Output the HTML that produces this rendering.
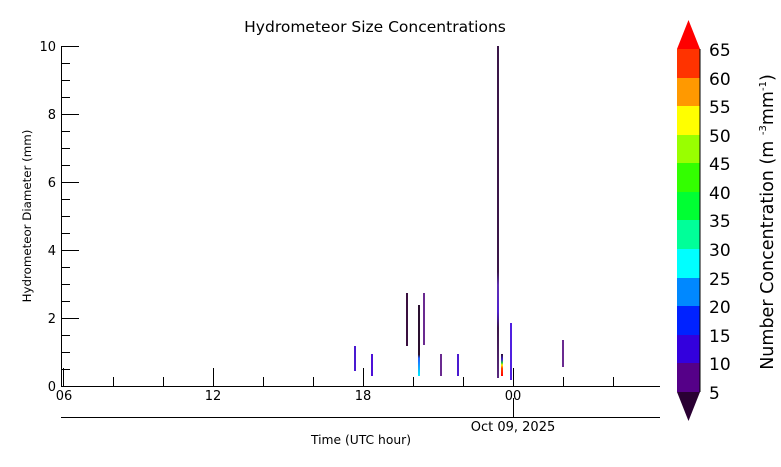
<!DOCTYPE html>
<html><head><meta charset="utf-8"><style>
html,body{margin:0;padding:0;background:#fff;}
svg{display:block;font-family:"DejaVu Sans","Liberation Sans",sans-serif;}
</style></head><body>
<svg width="781" height="467" viewBox="0 0 781 467" xmlns="http://www.w3.org/2000/svg">
<defs>
<linearGradient id="g419" x1="0" y1="0" x2="0" y2="1">
<stop offset="0" stop-color="#2a1030"/><stop offset="0.7" stop-color="#2a1030"/><stop offset="0.75" stop-color="#2060ff"/><stop offset="1" stop-color="#00f0ff"/>
</linearGradient>
<linearGradient id="g502" x1="0" y1="0" x2="0" y2="1">
<stop offset="0" stop-color="#2a1030"/><stop offset="0.25" stop-color="#4020d0"/><stop offset="0.4" stop-color="#20d040"/><stop offset="0.5" stop-color="#ffee00"/><stop offset="0.65" stop-color="#ff4000"/><stop offset="1" stop-color="#ff0000"/>
</linearGradient>
<linearGradient id="g498" x1="0" y1="0" x2="0" y2="1">
<stop offset="0" stop-color="#3a1648"/><stop offset="0.68" stop-color="#3a1648"/><stop offset="0.72" stop-color="#6030b0"/><stop offset="0.8" stop-color="#5020d0"/><stop offset="0.85" stop-color="#3a1648"/><stop offset="1" stop-color="#5a2a80"/>
</linearGradient>
</defs>
<text x="375" y="32" font-size="15.5" text-anchor="middle">Hydrometeor Size Concentrations</text>
<line x1="61.5" y1="46" x2="61.5" y2="386" stroke="#000"/>
<line x1="61" y1="386.5" x2="660" y2="386.5" stroke="#000"/>
<g stroke="#000">
<line x1="61" y1="46.5" x2="79" y2="46.5"/><line x1="61" y1="63.5" x2="70" y2="63.5"/><line x1="61" y1="80.5" x2="70" y2="80.5"/><line x1="61" y1="97.5" x2="70" y2="97.5"/>
<line x1="61" y1="114.5" x2="79" y2="114.5"/><line x1="61" y1="131.5" x2="70" y2="131.5"/><line x1="61" y1="148.5" x2="70" y2="148.5"/><line x1="61" y1="165.5" x2="70" y2="165.5"/>
<line x1="61" y1="182.5" x2="79" y2="182.5"/><line x1="61" y1="199.5" x2="70" y2="199.5"/><line x1="61" y1="216.5" x2="70" y2="216.5"/><line x1="61" y1="233.5" x2="70" y2="233.5"/>
<line x1="61" y1="250.5" x2="79" y2="250.5"/><line x1="61" y1="267.5" x2="70" y2="267.5"/><line x1="61" y1="284.5" x2="70" y2="284.5"/><line x1="61" y1="301.5" x2="70" y2="301.5"/>
<line x1="61" y1="318.5" x2="79" y2="318.5"/><line x1="61" y1="335.5" x2="70" y2="335.5"/><line x1="61" y1="352.5" x2="70" y2="352.5"/><line x1="61" y1="369.5" x2="70" y2="369.5"/>
<line x1="63.5" y1="368" x2="63.5" y2="386"/><line x1="113.5" y1="377" x2="113.5" y2="386"/><line x1="163.5" y1="377" x2="163.5" y2="386"/>
<line x1="213.5" y1="368" x2="213.5" y2="386"/><line x1="263.5" y1="377" x2="263.5" y2="386"/><line x1="313.5" y1="377" x2="313.5" y2="386"/>
<line x1="363.5" y1="368" x2="363.5" y2="386"/><line x1="413.5" y1="377" x2="413.5" y2="386"/><line x1="463.5" y1="377" x2="463.5" y2="386"/>
<line x1="513.5" y1="368" x2="513.5" y2="386"/><line x1="563.5" y1="377" x2="563.5" y2="386"/><line x1="613.5" y1="377" x2="613.5" y2="386"/>
<line x1="61" y1="417.5" x2="660" y2="417.5"/><line x1="513.5" y1="398" x2="513.5" y2="417"/>
</g>
<g font-size="13" text-anchor="end">
<text x="56" y="51">10</text><text x="56" y="119">8</text><text x="56" y="187">6</text><text x="56" y="255">4</text><text x="56" y="323">2</text><text x="56" y="391">0</text>
</g>
<g font-size="13" text-anchor="middle">
<text x="64" y="400">06</text><text x="213" y="400">12</text><text x="363" y="400">18</text><text x="513" y="400">00</text>
<text x="513" y="431">Oct 09, 2025</text>
</g>
<text x="361" y="444" font-size="12.3" text-anchor="middle">Time (UTC hour)</text>
<text transform="translate(31,216) rotate(-90)" font-size="11.8" text-anchor="middle">Hydrometeor Diameter (mm)</text>
<rect x="354" y="346" width="2" height="25" fill="#4a1ad0"/>
<rect x="371" y="354" width="2" height="22" fill="#4d10d8"/>
<rect x="406" y="293" width="2" height="53" fill="#3a1040"/>
<rect x="418" y="305" width="2" height="71" fill="url(#g419)"/>
<rect x="423" y="293" width="2" height="52" fill="#6a2a90"/>
<rect x="440" y="354" width="2" height="22" fill="#6a2a90"/>
<rect x="457" y="354" width="2" height="22" fill="#4a1ad0"/>
<rect x="497" y="46" width="2" height="332" fill="url(#g498)"/>
<rect x="501" y="354" width="2" height="22" fill="url(#g502)"/>
<rect x="510" y="323" width="2" height="57" fill="#5020e0"/>
<rect x="562" y="340" width="2" height="27" fill="#6a2a90"/>
<g>
<polygon points="677,49 700,49 688.5,20" fill="#ff0000"/>
<rect x="677" y="49" width="23" height="29" fill="#ff3300"/>
<rect x="677" y="78" width="23" height="29" fill="#ff9900"/>
<rect x="677" y="106" width="23" height="29" fill="#ffff00"/>
<rect x="677" y="135" width="23" height="29" fill="#99ff00"/>
<rect x="677" y="163" width="23" height="29" fill="#33ff00"/>
<rect x="677" y="192" width="23" height="29" fill="#00ff33"/>
<rect x="677" y="220" width="23" height="29" fill="#00ff99"/>
<rect x="677" y="249" width="23" height="29" fill="#00ffff"/>
<rect x="677" y="278" width="23" height="29" fill="#0088ff"/>
<rect x="677" y="306" width="23" height="29" fill="#0022ff"/>
<rect x="677" y="335" width="23" height="29" fill="#3300dd"/>
<rect x="677" y="363" width="23" height="29" fill="#550088"/>
<polygon points="677,392 700,392 688.5,421" fill="#2a0033"/>
<line x1="700" y1="49" x2="700" y2="392" stroke="#000" stroke-width="1"/>
</g>
<g font-size="17">
<text x="709" y="56">65</text><text x="709" y="85">60</text><text x="709" y="113">55</text><text x="709" y="142">50</text>
<text x="709" y="170">45</text><text x="709" y="199">40</text><text x="709" y="227">35</text><text x="709" y="256">30</text>
<text x="709" y="285">25</text><text x="709" y="313">20</text><text x="709" y="342">15</text><text x="709" y="370">10</text><text x="709" y="399">5</text>
</g>
<text transform="translate(773,222) rotate(-90)" font-size="17.5" text-anchor="middle">Number Concentration (m <tspan font-size="10" dy="-7">-3</tspan><tspan dy="7">mm</tspan><tspan font-size="10" dy="-7">-1</tspan><tspan dy="7">)</tspan></text>
</svg>
</body></html>
